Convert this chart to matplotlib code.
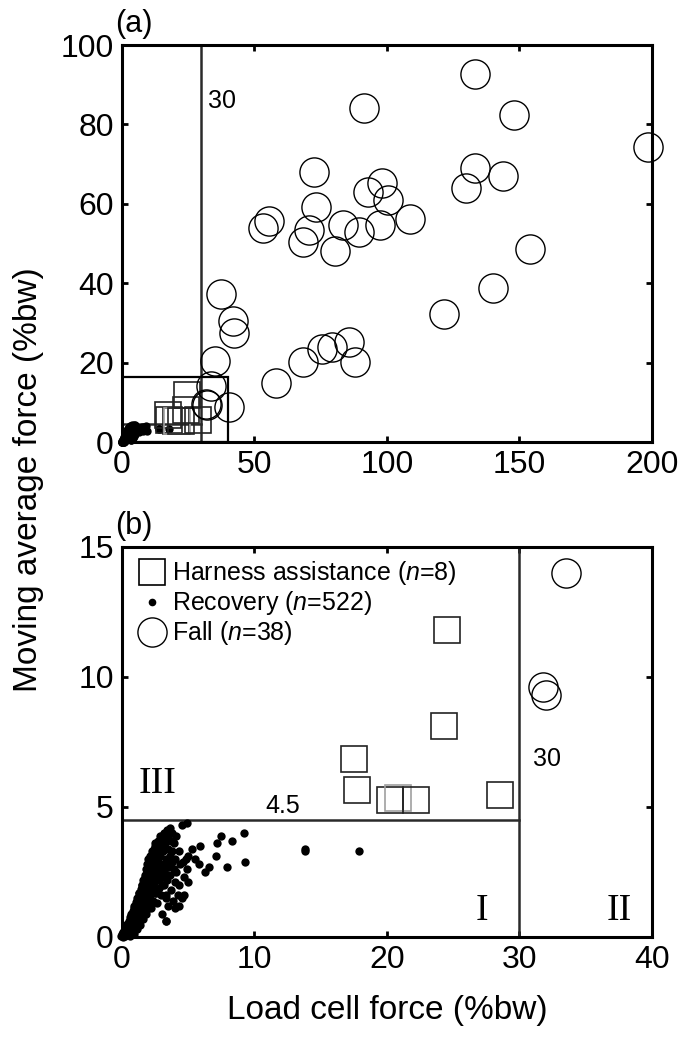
import numpy as np
import matplotlib
matplotlib.use("Agg")
import matplotlib.pyplot as plt
from matplotlib.lines import Line2D
from matplotlib.patches import Rectangle

plt.rcParams['font.family'] = ['Liberation Sans', 'DejaVu Sans']
plt.rcParams['mathtext.fontset'] = 'custom'
plt.rcParams['mathtext.it'] = 'Liberation Sans:italic'
plt.rcParams['mathtext.rm'] = 'Liberation Sans'

# Fall events (n=38): load cell force vs moving average force (%bw)
fall_x = [133.4, 91.2, 147.9, 198.5, 72.6, 133.4, 143.8, 129.8, 98.3, 92.9,
          100.2, 73.1, 108.5, 55.4, 53.4, 70.7, 68.2, 83.3, 89.5, 97.3,
          80.2, 154.1, 37.5, 140.0, 41.9, 42.2, 121.6, 35.0, 85.5, 75.6,
          79.2, 68.2, 87.9, 58.3, 33.5, 31.8, 32.0, 40.3]
fall_y = [92.6, 84.1, 82.4, 74.2, 67.9, 69.0, 66.9, 63.9, 65.2, 63.1,
          60.9, 59.2, 56.3, 55.6, 54.0, 53.4, 50.4, 54.6, 53.0, 54.6,
          48.1, 48.5, 37.4, 38.8, 30.4, 27.4, 32.3, 20.3, 25.1, 23.4,
          23.9, 20.1, 20.1, 14.8, 14.0, 9.6, 9.3, 8.8]

# Harness assistance (n=8)
harn_x = [17.5, 17.7, 20.2, 20.8, 22.2, 24.3, 24.5, 28.5]
harn_y = [6.85, 5.65, 5.25, 5.35, 5.25, 8.1, 11.8, 5.45]
harn_gray = [False, False, False, True, False, False, False, False]

# Recovery (dense cluster near origin)
rec_x = [0.05, 0.1, 0.15, 0.2, 0.25, 0.3, 0.3, 0.35, 0.4, 0.4, 0.45, 0.5, 0.5, 0.0, 0.1, -0.1, 0.2,
         0.55, 0.6, 0.6, 0.65, 0.7, 0.7, 0.75, 0.8, 0.8, 0.85, 0.9, 0.9, 0.95, 1.0, 1.0, 0.6, 0.9,
         1.05, 1.1, 1.1, 1.15, 1.2, 1.2, 1.25, 1.3, 1.3, 1.35, 1.4, 1.4, 1.45, 1.5, 1.5, 1.5,
         1.55, 1.6, 1.6, 1.65, 1.7, 1.7, 1.75, 1.8, 1.8, 1.85, 1.9, 1.9, 1.95, 2.0, 2.0, 2.0,
         2.05, 2.1, 2.1, 2.15, 2.2, 2.2, 2.25, 2.3, 2.3, 2.35, 2.4, 2.4, 2.45, 2.5, 2.5, 2.5,
         2.55, 2.6, 2.6, 2.65, 2.7, 2.7, 2.75, 2.8, 2.8, 2.85, 2.9, 2.9, 2.95, 3.0, 3.0, 3.0,
         3.05, 3.1, 3.1, 3.15, 3.2, 3.2, 3.25, 3.3, 3.3, 3.35, 3.4, 3.4, 3.45, 3.5, 3.5, 3.5,
         3.6, 3.6, 3.65, 3.7, 3.7, 3.75, 3.8, 3.8, 3.85, 3.9, 3.9, 4.0, 4.0, 4.0,
         4.1, 4.1, 4.2, 4.3, 4.3, 4.4, 4.9, 4.5, 4.5, 4.6, 4.7, 4.8, 4.9, 5.0, 5.0,
         5.3, 5.5, 5.8, 5.9, 6.3, 6.6, 7.1, 7.2, 7.5, 7.9, 8.3, 9.2, 9.3, 13.8, 13.8, 17.9,
         3.3, 4.3, 4.7, 3.3,
         0.3, 0.5, 0.7, 0.9, 1.1, 1.3, 1.5, 1.7, 1.9, 2.1, 2.3, 2.5, 2.7, 2.9, 3.1, 3.3,
         0.4, 0.8, 1.2, 1.6, 2.0, 2.4, 2.8, 3.2, 3.6, 1.0, 1.4, 1.8, 2.2, 2.6, 3.0, 3.4]
rec_y = [0.05, 0.2, 0.1, 0.3, 0.15, 0.4, 0.1, 0.25, 0.5, 0.2, 0.35, 0.6, 0.15, 0.1, 0.0, 0.05, 0.05,
         0.4, 0.75, 0.25, 0.55, 0.9, 0.35, 0.65, 1.0, 0.5, 0.2, 0.8, 1.2, 0.45, 1.05, 0.65, 0.05, 0.1,
         1.35, 0.85, 0.3, 1.5, 1.1, 0.6, 1.7, 0.95, 1.35, 0.45, 1.85, 1.2, 0.8, 2.0, 1.55, 1.0,
         2.2, 1.3, 0.7, 1.75, 2.4, 2.0, 1.1, 2.6, 1.5, 0.9, 2.2, 2.8, 1.8, 1.3, 2.5, 3.0,
         2.0, 3.1, 1.6, 2.7, 2.3, 1.1, 3.3, 1.9, 2.9, 1.4, 3.4, 2.5, 2.1, 3.0, 1.7, 3.6,
         2.7, 3.2, 2.2, 1.3, 3.7, 2.9, 2.4, 3.4, 1.9, 3.9, 2.6, 3.1, 1.6, 3.6, 2.3, 0.9,
         3.9, 2.8, 3.3, 2.0, 4.0, 2.5, 3.6, 1.5, 0.6, 3.0, 4.1, 2.2, 3.4, 2.7, 1.2, 3.9,
         4.2, 3.1, 2.4, 3.7, 1.8, 2.9, 4.0, 3.3, 1.4, 2.6, 3.6, 2.1, 3.0, 1.1,
         3.9, 2.5, 1.6, 3.3, 2.0, 2.8, 4.4, 4.3, 1.5, 2.9, 2.3, 3.0, 2.6, 2.1, 3.1,
         3.4, 3.0, 2.8, 3.5, 2.5, 2.7, 3.1, 3.6, 3.9, 2.7, 3.7, 4.0, 2.9, 3.4, 3.3, 3.3,
         0.6, 1.2, 1.6, 1.6,
         0.3, 0.5, 0.8, 1.1, 1.4, 1.7, 2.0, 2.3, 2.6, 2.9, 3.2, 3.5, 3.3, 3.7, 3.5, 3.8,
         0.2, 0.6, 0.9, 1.2, 1.6, 1.9, 2.2, 2.6, 2.9, 0.4, 0.7, 1.0, 1.3, 1.7, 2.0, 2.4]

x_thresh = 30
y_thresh = 4.5
zoom_box = (40, 16.5)

ticks_a_x = [0, 50, 100, 150, 200]
ticks_a_y = [0, 20, 40, 60, 80, 100]
ticks_b_x = [0, 10, 20, 30, 40]
ticks_b_y = [0, 5, 10, 15]

fig = plt.figure(figsize=(6.83, 10.42), dpi=100)
ax1 = fig.add_axes([0.1786, 0.5758, 0.776, 0.381])
ax2 = fig.add_axes([0.1786, 0.1008, 0.776, 0.3743])

thr_col = '#2a2a2a'


def inside(x, y, xlim, ylim):
    return xlim[0] - 0.5 <= x <= xlim[1] and ylim[0] - 0.5 <= y <= ylim[1]


def draw_points(ax, xlim, ylim):
    # markers are dropped when their data point lies outside the axes (MATLAB style)
    rx = [x for x, y in zip(rec_x, rec_y) if inside(x, y, xlim, ylim)]
    ry = [y for x, y in zip(rec_x, rec_y) if inside(x, y, xlim, ylim)]
    ax.plot(rx, ry, 'o', color='black', ms=6, mew=0, clip_on=False, zorder=3)
    for x, y, g in zip(harn_x, harn_y, harn_gray):
        if inside(x, y, xlim, ylim):
            ax.plot(x, y, 's', mfc='none', mec='#a0a0a0' if g else '#222222', ms=19, mew=1.2,
                    clip_on=False, zorder=4)
    fx = [x for x, y in zip(fall_x, fall_y) if inside(x, y, xlim, ylim)]
    fy = [y for x, y in zip(fall_x, fall_y) if inside(x, y, xlim, ylim)]
    ax.plot(fx, fy, 'o', mfc='none', mec='black', ms=21, mew=1.0, clip_on=False, zorder=4)
    ax.set_xlim(*xlim)
    ax.set_ylim(*ylim)


def style(ax, xt, yt):
    for s in ax.spines.values():
        s.set_linewidth(2.2)
    ax.set_xticks(xt)
    ax.set_yticks(yt)
    ax.tick_params(direction='in', length=4, width=2, top=True, right=True,
                   labelsize=23, pad=6)


# (a)
draw_points(ax1, (0, 200), (0, 100))
ax1.plot([x_thresh, x_thresh], [0, 100], color=thr_col, lw=1.8, zorder=2)
ax1.plot([0, x_thresh], [y_thresh, y_thresh], color=thr_col, lw=1.8, zorder=2)
ax1.add_patch(Rectangle((0, 0), zoom_box[0], zoom_box[1], fill=False, ec='black', lw=1.6, zorder=2))
style(ax1, ticks_a_x, ticks_a_y)
ax1.text(32.5, 86, '30', fontsize=18, ha='left', va='center')
ax1.text(-0.012, 1.015, '(a)', transform=ax1.transAxes, fontsize=22, ha='left', va='bottom')

# (b)
draw_points(ax2, (0, 40), (0, 15))
ax2.plot([x_thresh, x_thresh], [0, 15], color=thr_col, lw=1.8, zorder=2)
ax2.plot([0, x_thresh], [y_thresh, y_thresh], color=thr_col, lw=1.8, zorder=2)
style(ax2, ticks_b_x, ticks_b_y)
ax2.text(31.0, 6.85, '30', fontsize=18, ha='left', va='center')
ax2.text(12.1, 5.05, '4.5', fontsize=18, ha='center', va='center')
ax2.text(2.7, 5.9, 'III', fontsize=27, family='Liberation Serif', ha='center', va='center')
ax2.text(27.2, 1.0, 'I', fontsize=27, family='Liberation Serif', ha='center', va='center')
ax2.text(37.5, 1.0, 'II', fontsize=27, family='Liberation Serif', ha='center', va='center')
ax2.text(-0.012, 1.015, '(b)', transform=ax2.transAxes, fontsize=22, ha='left', va='bottom')

handles = [
    Line2D([], [], ls='none', marker='s', mfc='none', mec='black', ms=19, mew=1.2),
    Line2D([], [], ls='none', marker='o', color='black', ms=5.5, mew=0),
    Line2D([], [], ls='none', marker='o', mfc='none', mec='black', ms=21, mew=1.0),
]
labels = ['Harness assistance ($n$=8)', 'Recovery ($n$=522)', 'Fall ($n$=38)']
ax2.legend(handles, labels, loc='upper left', frameon=False, fontsize=18,
           handlelength=1.0, handletextpad=0.3, labelspacing=0.08,
           borderaxespad=0.2, borderpad=0.3, bbox_to_anchor=(0.01, 1.0))

ax2.set_xlabel('Load cell force (%bw)', fontsize=24, labelpad=14)
fig.text(0.042, 1 - 480 / 1042, 'Moving average force (%bw)', fontsize=24,
         rotation=90, ha='center', va='center')

fig.savefig('out.png', dpi=100)
